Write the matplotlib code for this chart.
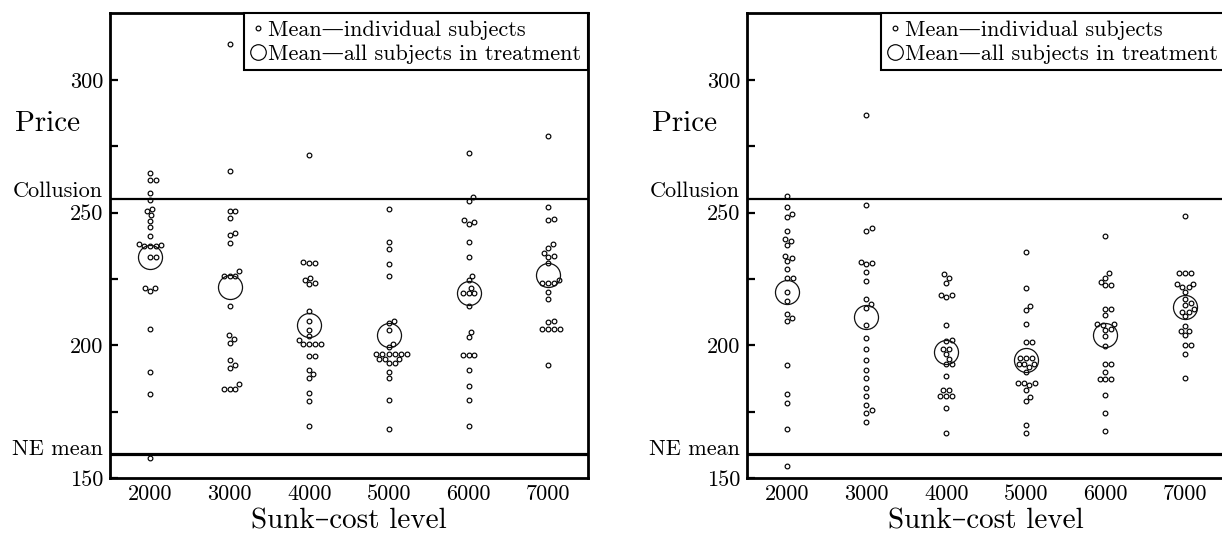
import numpy as np
import matplotlib
matplotlib.use("Agg")
import matplotlib.pyplot as plt
from matplotlib.lines import Line2D
import matplotlib.transforms as mtransforms

plt.rcParams['font.family'] = ['cmr10', 'DejaVu Serif']
plt.rcParams['mathtext.fontset'] = 'cm'
plt.rcParams['axes.unicode_minus'] = False
plt.rcParams['axes.formatter.use_mathtext'] = True

# ---------------- data ----------------
levels = [2000, 3000, 4000, 5000, 6000, 7000]
level_labels = ['2000', '3000', '4000', '5000', '6000', '7000']

collusion = 255.2
ne_mean = 159.0

# left panel: individual subject means
L2000 = [264.9, 262.2, 262.2, 257.3, 254.8, 251.5, 250.4, 249.0, 246.9, 244.7,
         241.2, 238.3, 237.2, 237.2, 237.6, 237.4, 233.2, 233.2, 221.5, 220.6,
         221.5, 206.2, 189.8, 181.7, 157.4]
L3000 = [313.6, 265.7, 250.6, 250.6, 248.0, 242.3, 241.7, 238.6, 227.9, 226.1,
         226.1, 226.1, 214.7, 203.8, 202.4, 200.9, 194.3, 192.4, 191.4, 185.3,
         183.6, 183.6, 183.6]
L4000 = [271.7, 231.0, 231.0, 231.4, 225.5, 224.5, 223.5, 223.2, 212.9, 209.2,
         205.9, 203.3, 201.9, 200.5, 200.5, 200.5, 200.5, 196.0, 196.0, 190.6,
         189.3, 187.8, 182.2, 179.0, 169.6]
L5000 = [251.3, 238.9, 236.4, 230.5, 226.1, 209.0, 208.2, 205.8, 200.6, 199.3,
         196.8, 196.8, 196.8, 196.8, 196.8, 196.8, 194.9, 194.9, 194.9, 193.3,
         193.3, 190.0, 187.8, 179.5, 168.6]
L6000 = [272.6, 255.7, 254.4, 247.1, 246.5, 245.6, 238.9, 233.3, 226.1, 224.5,
         221.4, 219.5, 219.5, 219.5, 214.7, 205.0, 203.1, 196.2, 196.2, 196.2,
         190.8, 184.5, 179.5, 169.4]
L7000 = [278.9, 252.1, 247.5, 247.1, 238.1, 236.7, 234.8, 233.7, 233.3, 231.0,
         224.7, 223.5, 223.5, 223.5, 220.1, 217.3, 209.0, 208.8, 206.0, 206.0,
         206.0, 206.0, 192.5]
left_means = [233.4, 222.0, 207.8, 203.7, 219.5, 226.6]

# right panel: individual subject means
R2000 = [256.2, 252.1, 249.3, 248.4, 243.1, 240.2, 239.3, 237.7, 233.7, 232.7,
         231.6, 228.9, 225.4, 225.4, 220.1, 216.6, 211.6, 210.1, 209.2, 192.5,
         181.8, 178.4, 168.6, 154.5]
R3000 = [286.7, 252.8, 244.0, 243.1, 231.4, 230.8, 230.5, 227.6, 224.1, 217.3,
         215.4, 214.2, 207.5, 202.7, 198.7, 194.6, 190.8, 187.8, 184.0, 180.8,
         177.4, 175.5, 174.5, 171.1]
R4000 = [226.7, 225.4, 223.5, 219.1, 219.1, 218.3, 207.5, 201.9, 201.6, 198.7,
         198.7, 196.8, 195.0, 193.1, 193.1, 188.3, 183.0, 183.0, 181.0, 181.0,
         181.0, 176.4, 166.9]
R5000 = [235.2, 221.6, 214.8, 213.2, 207.9, 201.2, 201.2, 195.3, 195.3, 195.3,
         193.1, 193.1, 193.1, 191.8, 190.0, 185.8, 185.8, 185.8, 185.0, 183.3,
         180.5, 179.0, 170.1, 166.9]
R6000 = [241.3, 227.2, 225.5, 224.0, 222.6, 222.6, 213.5, 213.5, 211.3, 207.9,
         207.9, 207.6, 206.0, 205.6, 203.4, 199.7, 192.8, 192.8, 190.0, 187.4,
         187.4, 187.4, 181.1, 174.5, 167.6]
R7000 = [248.6, 227.2, 227.2, 227.2, 223.2, 223.2, 221.8, 221.8, 220.1, 217.6,
         216.0, 215.3, 213.8, 212.6, 212.6, 210.9, 207.1, 205.4, 205.4, 203.8,
         200.0, 200.0, 196.6, 187.7]
right_means = [220.1, 210.6, 197.5, 194.6, 204.0, 214.4]

left_groups = [L2000, L3000, L4000, L5000, L6000, L7000]
right_groups = [R2000, R3000, R4000, R5000, R6000, R7000]

legend_labels = ['Mean\u2014individual subjects', 'Mean\u2014all subjects in treatment']

# ---------------- layout ----------------
W, H, DPI = 12.22, 5.34, 100
fig = plt.figure(figsize=(W, H), dpi=DPI)
ax_bottom = (534 - 478) / 534
ax_height = (478 - 13.4) / 534
ax_width = 478 / 1222
axL = fig.add_axes([110 / 1222, ax_bottom, ax_width, ax_height])
axR = fig.add_axes([747 / 1222, ax_bottom, ax_width, ax_height])

XLIM = (1500, 7500)
YLIM = (150, 325)
px_per_x = ax_width * W * DPI / (XLIM[1] - XLIM[0])
px_per_y = ax_height * H * DPI / (YLIM[1] - YLIM[0])
D = 5.8  # marker spacing in pixels
SMALL_MS, SMALL_MEW = 3.4, 0.85


def swarm_offsets(vals_px, d):
    order = np.argsort(vals_px, kind='stable')
    placed = []
    offs = np.zeros(len(vals_px))
    for i in order:
        y = vals_px[i]
        cands = [0.0]
        for (px, py) in placed:
            dy = abs(y - py)
            if dy < d:
                dx = np.sqrt(d * d - dy * dy)
                cands += [px + dx, px - dx]
        cands.sort(key=lambda c: (abs(c), -c))
        for c in cands:
            if all((c - px) ** 2 + (y - py) ** 2 >= d * d - 1e-6 for px, py in placed):
                offs[i] = c
                placed.append((c, y))
                break
    return offs


def draw_panel(ax, groups, means):
    for lev, vals in zip(levels, groups):
        vals = np.asarray(vals, dtype=float)
        offs = swarm_offsets(vals * px_per_y, D)
        xs = lev + offs / px_per_x
        ax.plot(xs, vals, ls='none', marker='o', ms=SMALL_MS, mfc='none',
                mec='k', mew=SMALL_MEW, zorder=3)
    ax.plot(levels, means, ls='none', marker='o', ms=17.3, mfc='none',
            mec='#111111', mew=0.9, zorder=3)
    ax.axhline(collusion, color='k', lw=1.6, zorder=2)
    ax.axhline(ne_mean, color='k', lw=2.3, zorder=2)
    ax.set_xlim(*XLIM)
    ax.set_ylim(*YLIM)
    ax.set_xticks(levels)
    ax.set_xticklabels(level_labels, fontsize=16)
    yt = [150, 175, 200, 225, 250, 275, 300]
    ax.set_yticks(yt)
    ax.set_yticklabels([str(v) if v % 50 == 0 else '' for v in yt], fontsize=16)
    ax.tick_params(axis='y', direction='in', length=5.5, width=1.6, pad=5)
    ax.tick_params(axis='x', length=0, pad=5)
    for sp in ax.spines.values():
        sp.set_linewidth(2.0)
    trans = mtransforms.blended_transform_factory(ax.transAxes, ax.transData)
    ax.annotate('Collusion', xy=(0, collusion), xycoords=trans, xytext=(-5, 1),
                textcoords='offset points', ha='right', va='baseline', fontsize=16)
    ax.annotate('NE mean', xy=(0, ne_mean), xycoords=trans, xytext=(-5, -1),
                textcoords='offset points', ha='right', va='baseline', fontsize=16)
    ax.text(-0.199, 283.3, 'Price', transform=trans, ha='left', va='center', fontsize=21)
    ax.set_xlabel('Sunk\u2013cost level', fontsize=21, labelpad=3)
    handles = [Line2D([], [], ls='none', marker='o', ms=SMALL_MS, mfc='none', mec='k', mew=SMALL_MEW),
               Line2D([], [], ls='none', marker='o', ms=11.2, mfc='none', mec='k', mew=0.85)]
    leg = ax.legend(handles, legend_labels, loc='upper right', borderaxespad=0,
                    frameon=True, fancybox=False, edgecolor='k', framealpha=1,
                    handlelength=0.7, handletextpad=0.1, borderpad=0.3,
                    labelspacing=0.2, fontsize=16)
    leg.get_frame().set_linewidth(1.5)


draw_panel(axL, left_groups, left_means)
draw_panel(axR, right_groups, right_means)

fig.savefig('out.png', dpi=DPI)
